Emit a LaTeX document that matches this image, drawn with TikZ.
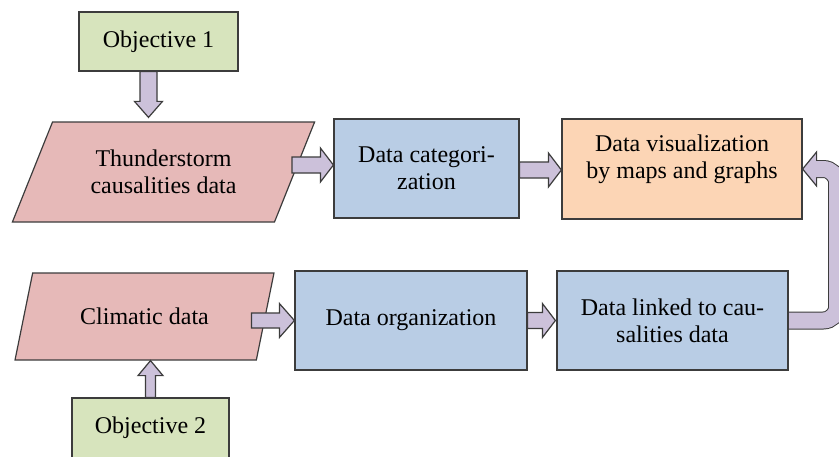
\documentclass[tikz,border=0pt]{standalone}
\usepackage{fontspec}
\setmainfont{Liberation Serif}
\usetikzlibrary{shapes.geometric,calc}
\definecolor{bordc}{HTML}{3C3C3C}
\definecolor{objg}{HTML}{D7E4BD}
\definecolor{parp}{HTML}{E6B9B8}
\definecolor{boxb}{HTML}{B9CDE5}
\definecolor{boxo}{HTML}{FCD5B5}
\definecolor{arrp}{HTML}{CCC1DA}
\newcommand{\blockarrow}[5]{%
  \draw[barrow] let \p1=(#1), \p2=(#2), \n1={veclen(\x2-\x1,\y2-\y1)}, \n2={atan2(\y2-\y1,\x2-\x1)} in
  [shift={(\p1)}, rotate=\n2]
  (0,#3) -- ({\n1-#5},#3) -- ({\n1-#5},#4) -- (\n1,0) -- ({\n1-#5},-#4) -- ({\n1-#5},-#3) -- (0,-#3) -- cycle;}
\tikzset{
  box/.style={draw=bordc, line width=1.2pt, rectangle, inner sep=0pt, align=center,
    font=\fontsize{24}{27}\selectfont},
  txt/.style={inner sep=0pt, align=center, font=\fontsize{24}{27}\selectfont},
  para/.style={draw=bordc, line width=1.2pt, trapezium, trapezium left angle=59,
    trapezium right angle=121, trapezium stretches=true, inner sep=0pt, align=center,
    font=\fontsize{24}{27}\selectfont},
  barrow/.style={draw=bordc, fill=arrp, line width=1.2pt, line join=miter}
}
\begin{document}
\begin{tikzpicture}[x=1pt,y=-1pt]
\useasboundingbox (0,0) rectangle (839,456);
% nodes
\node[box, fill=objg, minimum width=159pt, minimum height=59pt] (ob1) at (158.5,41.5) {Objective 1};
\node[para, fill=parp, minimum width=303pt, minimum height=100pt] (tc) at (163.5,172) {Thunderstorm\\causalities data};
\node[box, fill=boxb, minimum width=185pt, minimum height=99pt] (dc) at (426.5,168.5) {Data categori-\\zation};
\node[box, fill=boxo, minimum width=240pt, minimum height=100pt] (dv) at (682,169) {};
\node[txt] (dvt) at ([yshift=9.5pt]dv.center) {Data visualization\\by maps and graphs};
\node[para, fill=parp, minimum width=259pt, minimum height=87pt] (cl) at (144.5,316.5) {Climatic data};
\node[box, fill=boxb, minimum width=232pt, minimum height=99pt] (do) at (411,320.5) {Data organization};
\node[box, fill=boxb, minimum width=231pt, minimum height=99pt] (dl) at (672.5,320.5) {Data linked to cau-\\salities data};
\node[box, fill=objg, minimum width=157pt, minimum height=60pt] (ob2) at (150.5,428) {Objective 2};
% straight block arrows
\coordinate (a1s) at ([xshift=-10pt]ob1.south);
\coordinate (a1t) at ($(a1s |- tc.north)+(0,-4)$);
\blockarrow{a1s}{a1t}{8.5}{14}{16}
\coordinate (a2s) at ($(tc.center)+(128.5,-7)$);
\coordinate (a2t) at (a2s -| dc.west);
\blockarrow{a2s}{a2t}{8}{17}{13}
\coordinate (a3s) at ($(dc.east)+(0,1.5)$);
\coordinate (a3t) at (a3s -| dv.west);
\blockarrow{a3s}{a3t}{8}{17}{13}
\coordinate (a4s) at ($(do.west)+(-43,0)$);
\blockarrow{a4s}{do.west}{7.5}{17}{15}
\coordinate (a5t) at ($(dl.west)+(-1,0)$);
\blockarrow{do.east}{a5t}{8}{17}{13}
\coordinate (a6t) at (ob2.north |- cl.south);
\blockarrow{ob2.north}{a6t}{5}{12.5}{15}
% curved arrow
\draw[line width=18pt, draw=bordc, rounded corners=14pt] ([xshift=0.6pt]dl.east) -- ++(48,0) |- ([xshift=14pt]dv.east);
\draw[barrow] (dv.east) -- ++(14,-17) -- ++(0,34) -- cycle;
\draw[line width=16pt, draw=arrp, rounded corners=14pt] ([xshift=0.6pt]dl.east) -- ++(48,0) |- ([xshift=13pt]dv.east);
\end{tikzpicture}
\end{document}
